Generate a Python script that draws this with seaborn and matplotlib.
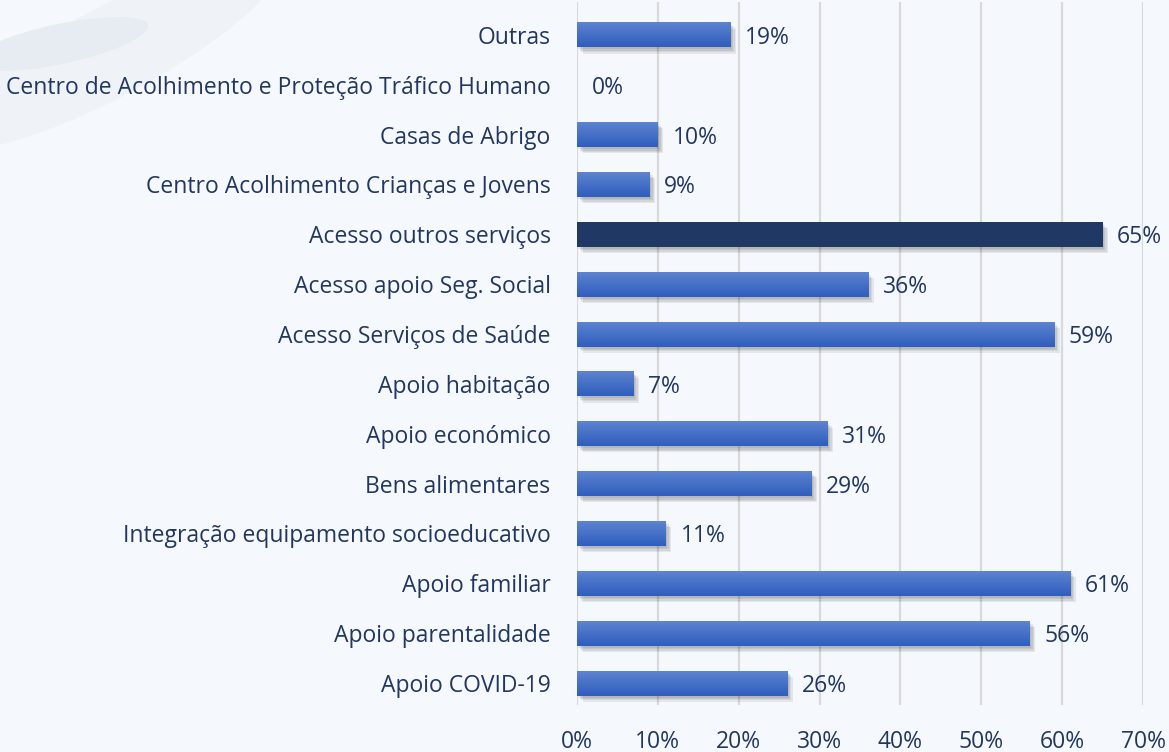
import matplotlib
matplotlib.use("Agg")
import matplotlib.pyplot as plt
import matplotlib.patheffects as pe
from matplotlib.patches import Ellipse
from matplotlib.transforms import IdentityTransform
from matplotlib.ticker import PercentFormatter
import numpy as np
import seaborn as sns

# Data
categories = [
    "Outras",
    "Centro de Acolhimento e Proteção Tráfico Humano",
    "Casas de Abrigo",
    "Centro Acolhimento Crianças e Jovens",
    "Acesso outros serviços",
    "Acesso apoio Seg. Social",
    "Acesso Serviços de Saúde",
    "Apoio habitação",
    "Apoio económico",
    "Bens alimentares",
    "Integração equipamento socioeducativo",
    "Apoio familiar",
    "Apoio parentalidade",
    "Apoio COVID-19",
]
values = [19, 0, 10, 9, 65, 36, 59, 7, 31, 29, 11, 61, 56, 26]
highlight = "Acesso outros serviços"

bg = "#F5F8FC"
navy = "#203864"
text_col = "#22375F"

sns.set_theme(style="white")
plt.rcParams["font.family"] = ["Open Sans", "DejaVu Sans"]

fig = plt.figure(figsize=(11.69, 7.52), dpi=100, facecolor=bg)
ax = fig.add_axes([577 / 1169, 47 / 752, (1143 - 577) / 1169, 703 / 752])
ax.set_facecolor("none")
ax.set_zorder(2)

# faint decorative swoosh in the top-left corner
fig.patches.append(Ellipse((110, 700), 380, 90, angle=28, transform=IdentityTransform(),
                           facecolor="#EFF2F7", edgecolor="none", zorder=0))
fig.patches.append(Ellipse((60, 708), 180, 40, angle=12, transform=IdentityTransform(),
                           facecolor="#E7ECF3", edgecolor="none", zorder=0))

palette = [navy if c == highlight else "#3F6AC6" for c in categories]
sns.barplot(x=values, y=categories, hue=categories, palette=palette, legend=False,
            orient="h", width=0.5, ax=ax, zorder=3, saturation=1, linewidth=0)

# gradient fill + soft drop shadow on the bars
grad = np.linspace(0, 1, 64).reshape(-1, 1)
blue_cmap = matplotlib.colors.LinearSegmentedColormap.from_list("b", ["#5E83D0", "#2E5EBE"])
shadow = [pe.SimplePatchShadow(offset=(1 + k, -1.5 - k), shadow_rgbFace="#000000", alpha=0.07)
          for k in range(4)]
for patch, cat in zip(ax.patches, categories):
    patch.set_edgecolor("none")
    patch.set_path_effects(shadow + [pe.Normal()])
    if cat == highlight:
        continue
    x0, y0 = patch.get_x(), patch.get_y()
    w, h = patch.get_width(), patch.get_height()
    if w <= 0:
        continue
    im = ax.imshow(grad, cmap=blue_cmap, aspect="auto", extent=(x0, x0 + w, y0 + h, y0),
                   zorder=4, interpolation="bicubic")
    im.set_clip_path(patch)

for i, v in enumerate(values):
    ax.annotate(f"{v}%", (v, i), xytext=(10.5, 0), textcoords="offset points",
                va="center_baseline", ha="left", fontsize=16.5, color=text_col, zorder=5)

ax.set_xlim(0, 70)
ax.set_ylim(13.44, -0.66)
ax.set_xticks(range(0, 71, 10))
ax.xaxis.set_major_formatter(PercentFormatter(decimals=0))
ax.grid(axis="x", color="#D9D9D9", linewidth=1.6, zorder=0)
ax.set_axisbelow(True)
for s in ax.spines.values():
    s.set_visible(False)
ax.tick_params(axis="y", length=0, pad=19, labelsize=16.5, labelcolor=text_col)
ax.tick_params(axis="x", length=0, pad=18, labelsize=16.5, labelcolor=text_col)
ax.set_xlabel("")
ax.set_ylabel("")

fig.savefig("out.png", dpi=100, facecolor=bg)
